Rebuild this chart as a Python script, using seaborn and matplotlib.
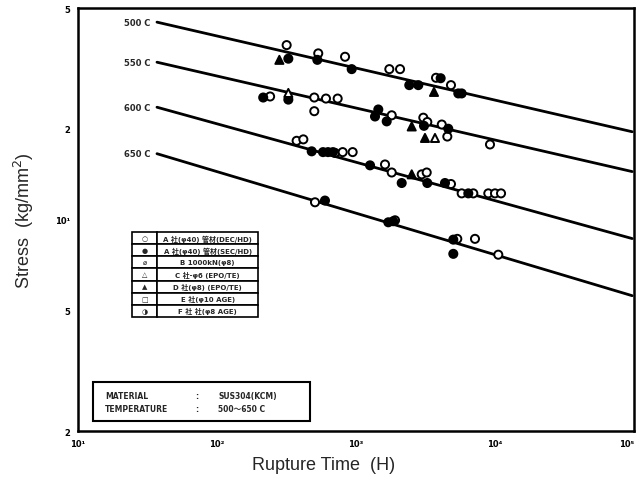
"""
Creep rupture data, SUS304 tube, 500-650 C.
Stress vs rupture time on log-log axes, one fitted line per temperature.
"""
import matplotlib
matplotlib.use('Agg')
import numpy as np
import pandas as pd
import matplotlib.pyplot as plt
from matplotlib.patches import Rectangle
import seaborn as sns

# fitted lines (start and end of each line)
temps = ['500 C', '550 C', '600 C', '650 C']
line_t = [37, 97000]
line_s_start = [44.9, 33.1, 23.5, 16.5]
line_s_end = [19.5, 14.4, 8.65, 5.6]

# test points, by marker kind
open_circle_t = [317, 535, 834, 1737, 2074, 3764, 4822,
                 241, 501, 608, 738, 501, 1807, 3050, 3258, 4140, 4539, 9204,
                 374, 418, 706, 802, 946, 1617, 1807, 2970, 3226, 4822, 5758, 6982, 8950, 10000, 11050,
                 507, 1909, 5354, 7178, 10560]
open_circle_s = [37.7, 35.4, 34.5, 31.4, 31.4, 29.4, 27.8,
                 25.5, 25.3, 25.1, 25.1, 22.8, 22.1, 21.7, 21.0, 20.6, 18.8, 17.7,
                 18.2, 18.4, 16.6, 16.7, 16.7, 15.2, 14.3, 14.1, 14.3, 13.1, 12.2, 12.2, 12.2, 12.2, 12.2,
                 11.4, 9.94, 8.63, 8.63, 7.65]

filled_circle_t = [326, 527, 931, 2417, 2808, 4064, 5445, 5758,
                   215, 326, 1447, 1370, 1663, 3084, 4613,
                   480, 579, 629, 683, 1262, 2132, 3258, 4366, 6427,
                   598, 1708, 1854, 5012, 5012]
filled_circle_s = [34.0, 33.7, 31.4, 27.8, 27.8, 29.3, 26.1, 26.1,
                   25.3, 24.9, 23.1, 21.9, 21.1, 20.4, 19.95,
                   16.8, 16.7, 16.7, 16.7, 15.1, 13.2, 13.2, 13.2, 12.2,
                   11.55, 9.79, 9.87, 8.58, 7.70]

filled_tri_t = [281, 3640, 2517, 3135, 2517]
filled_tri_s = [33.7, 26.4, 20.3, 18.6, 14.1]

open_tri_t = [326, 3700]
open_tri_s = [26.2, 18.6]

# legend table text
legend_marks = ['○', '●', '⌀', '△', '▲', '□', '◑']
legend_labels = ['A 社(φ40) 管材(DEC/HD)',
                 'A 社(φ40) 管材(SEC/HD)',
                 'B 1000kN(φ8)',
                 'C 社-φ6 (EPO/TE)',
                 'D 社(φ8) (EPO/TE)',
                 'E 社(φ10 AGE)',
                 'F 社 社(φ8 AGE)']

x_ticks = [10, 100, 1000, 10000, 100000]
x_ticklabels = ['10¹', '10²', '10³', '10⁴', '10⁵']
y_ticks = [2, 5, 10, 20, 50]
y_ticklabels = ['2', '5', '10¹', '2', '5']


def build_points():
    frames = []
    for kind, t, s in [('open circle', open_circle_t, open_circle_s),
                       ('filled circle', filled_circle_t, filled_circle_s),
                       ('filled triangle', filled_tri_t, filled_tri_s),
                       ('open triangle', open_tri_t, open_tri_s)]:
        frames.append(pd.DataFrame({'t': t, 's': s, 'kind': kind}))
    return pd.concat(frames, ignore_index=True)


def build_lines():
    rows = []
    for temp, s0, s1 in zip(temps, line_s_start, line_s_end):
        rows.append({'t': line_t[0], 's': s0, 'temp': temp})
        rows.append({'t': line_t[1], 's': s1, 'temp': temp})
    return pd.DataFrame(rows)


if __name__ == '__main__':

    sns.set_style('white')
    plt.rcParams['font.family'] = ['DejaVu Sans', 'Noto Sans CJK JP']

    fig = plt.figure(figsize=(6.36, 4.81), dpi=100)
    ax = fig.add_axes([78 / 636, 1 - 432 / 481, 556 / 636, 423 / 481])

    lines = build_lines()
    sns.lineplot(data=lines, x='t', y='s', units='temp', estimator=None,
                 color='black', lw=2, ax=ax)

    points = build_points()
    sns.scatterplot(data=points, x='t', y='s', hue='kind', style='kind',
                    palette={'open circle': 'white', 'filled circle': 'black',
                             'filled triangle': 'black', 'open triangle': 'white'},
                    markers={'open circle': 'o', 'filled circle': 'o',
                             'filled triangle': '^', 'open triangle': '^'},
                    edgecolor='black', linewidth=1.4, s=34, legend=False,
                    zorder=3, ax=ax)

    ax.set_xscale('log')
    ax.set_yscale('log')
    ax.set_xlim(10, 100000)
    ax.set_ylim(2, 50)

    ax.xaxis.set_minor_locator(matplotlib.ticker.NullLocator())
    ax.yaxis.set_minor_locator(matplotlib.ticker.NullLocator())
    ax.set_xticks(x_ticks)
    ax.set_xticklabels(x_ticklabels)
    ax.set_yticks(y_ticks)
    ax.set_yticklabels(y_ticklabels)
    ax.tick_params(direction='inout', length=7, width=1.2, labelsize=6, pad=2,
                   color='black', labelcolor='black')
    for lab in ax.get_xticklabels() + ax.get_yticklabels():
        lab.set_fontweight('bold')
    # last x label sits on the figure edge, keep it inside
    ax.get_xticklabels()[-1].set_horizontalalignment('right')

    for side in ['left', 'right', 'top', 'bottom']:
        ax.spines[side].set_color('black')
        ax.spines[side].set_linewidth(1.8)
        ax.spines[side].set_visible(True)

    # temperature labels at the start of each line
    for temp, s0 in zip(temps, line_s_start):
        ax.text(33, s0, temp, ha='right', va='center', fontsize=6,
                fontweight='bold')

    ax.set_xlabel('Rupture Time  (H)', fontsize=13, family=['Liberation Sans'])
    ax.set_ylabel('Stress  (kg/mm$^2$)', fontsize=13, family=['Liberation Sans'])
    ax.xaxis.set_label_coords(0.442, -0.058)
    ax.yaxis.set_label_coords(-0.076, 0.5)

    # legend table
    table = ax.table(cellText=[[m, l] for m, l in zip(legend_marks, legend_labels)],
                     colWidths=[0.2, 0.8], cellLoc='center',
                     bbox=[0.097, 0.2695, 0.227, 0.201])
    table.auto_set_font_size(False)
    for (r, c), cell in table.get_celld().items():
        cell.set_linewidth(1.2)
        cell.set_edgecolor('black')
        cell.set_text_props(fontsize=5, fontweight='bold',
                            family=['DejaVu Sans', 'Noto Sans CJK JP'])
        if c == 1:
            cell._loc = 'left'
            cell.PAD = 0.04

    # material box
    ax.add_patch(Rectangle((0.027, 0.024), 0.39, 0.092, transform=ax.transAxes,
                           fill=False, lw=1.5, edgecolor='black', zorder=4))
    for y, key, val in [(0.083, 'MATERIAL', 'SUS304(KCM)'),
                        (0.054, 'TEMPERATURE', '500～650 C')]:
        ax.text(0.049, y, key, transform=ax.transAxes, fontsize=5.5,
                fontweight='bold', va='center')
        ax.text(0.21, y, ':', transform=ax.transAxes, fontsize=5.5,
                fontweight='bold', va='center')
        ax.text(0.252, y, val, transform=ax.transAxes, fontsize=5.5,
                fontweight='bold', va='center',
                family=['DejaVu Sans', 'Noto Sans CJK JP'])

    fig.savefig('out.png', dpi=100, facecolor='white')
